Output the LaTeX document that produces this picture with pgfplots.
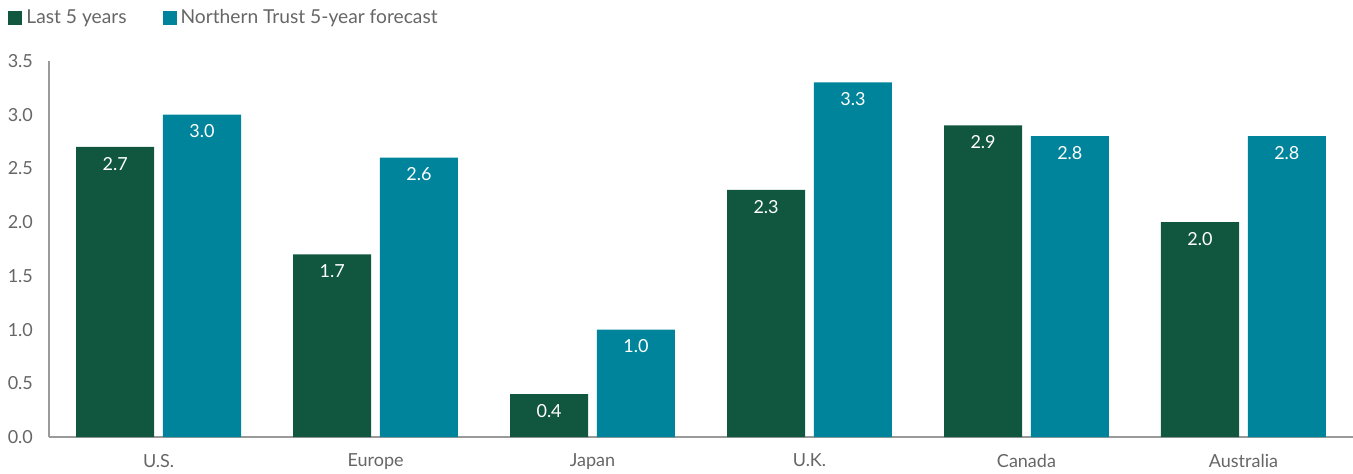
\documentclass[border=0pt]{standalone}
\usepackage{pgfplots}
\pgfplotsset{compat=1.18}
\usepackage{fontspec}
\setmainfont{Lato}
\definecolor{dkgreen}{HTML}{115740}
\definecolor{teal}{HTML}{00849B}
\definecolor{txtgray}{HTML}{666666}
\definecolor{axgray}{HTML}{9A9A9A}
\begin{document}
\begin{tikzpicture}
\useasboundingbox (-24.5pt,-18pt) rectangle (652pt,218.5pt);
\begin{axis}[
  at={(0,0)}, anchor=south west,
  scale only axis,
  width=652pt, height=188pt,
  xmin=-0.505, xmax=5.505,
  ymin=0, ymax=3.5,
  ybar, bar width=0.36,
  axis lines=left,
  axis line style={axgray, line width=0.8pt, -},
  xtick={0,1,2,3,4,5},
  xticklabels={U.S.,Europe,Japan,U.K.,Canada,Australia},
  ytick={0,0.5,1,1.5,2,2.5,3,3.5},
  yticklabel style={anchor=east, xshift=-4.5pt, /pgf/number format/fixed, /pgf/number format/fixed zerofill, /pgf/number format/precision=1},
  /pgf/number format/assume math mode=true,
  major tick length=0pt,
  tick label style={font=\fontsize{9}{10}\selectfont, text=txtgray},
  xticklabel style={yshift=-5pt},
  nodes near coords,
  nodes near coords style={font=\fontsize{9}{10}\selectfont, text=white, anchor=north, yshift=-1.5pt,
    /pgf/number format/fixed, /pgf/number format/fixed zerofill, /pgf/number format/precision=1},
  legend columns=2,
  legend style={at={(axis description cs:-0.0314,1.114)}, anchor=west, draw=none, fill=none,
    font=\fontsize{9.6}{11}\selectfont, text=txtgray, inner sep=0pt,
    /tikz/every even column/.append style={column sep=16pt}},
  legend image code/.code={\fill[#1] (0pt,-3.5pt) rectangle (7pt,3.5pt);},
]
\addplot[fill=dkgreen, draw=none, bar shift=-0.2] coordinates {(0,2.7) (1,1.7) (2,0.4) (3,2.3) (4,2.9) (5,2.0)};
\addplot[fill=teal, draw=none, bar shift=0.2] coordinates {(0,3.0) (1,2.6) (2,1.0) (3,3.3) (4,2.8) (5,2.8)};
\legend{Last 5 years, Northern Trust 5-year forecast}
\end{axis}
\end{tikzpicture}
\end{document}
